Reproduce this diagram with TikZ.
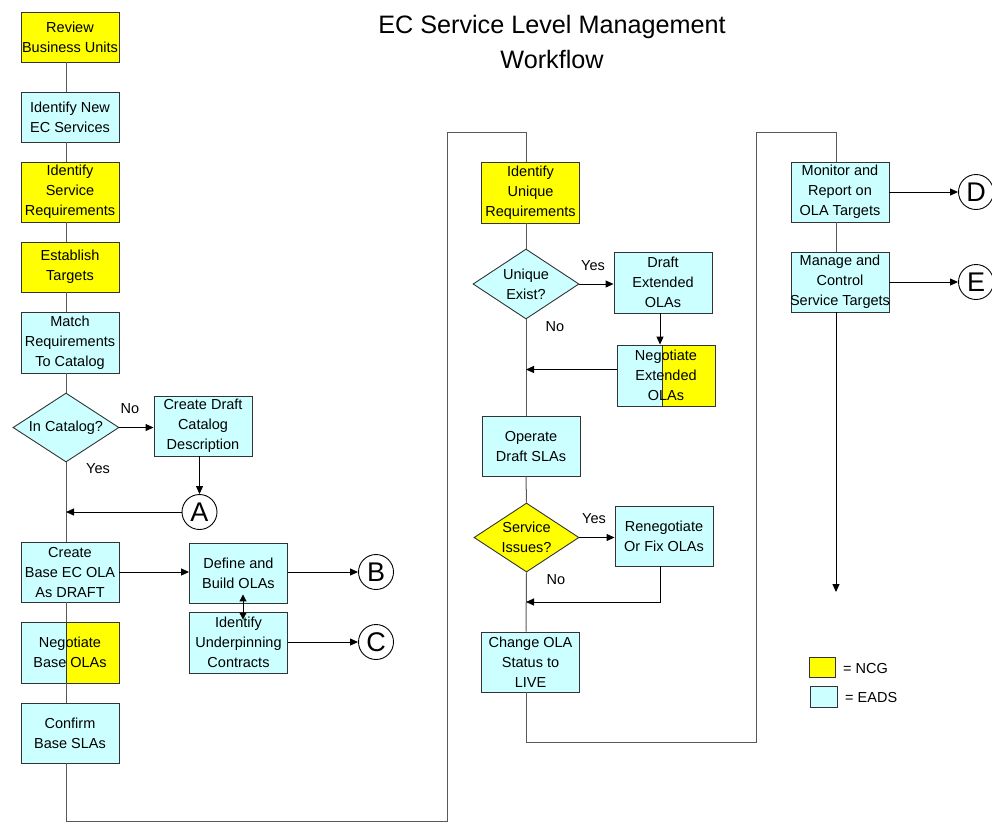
\documentclass[tikz,border=0pt]{standalone}
\usepackage{fontspec}
\setmainfont{Liberation Sans}
\usetikzlibrary{shapes.geometric,arrows.meta,calc}
\definecolor{ncgc}{HTML}{FFFF00}
\definecolor{eadsc}{HTML}{CCFFFF}
\newcommand\boxfont{\fontsize{14.5}{20}\selectfont}
\newcommand\bigletter{\fontsize{27}{30}\selectfont}
\newcommand\titlefont{\fontsize{25.2}{35}\selectfont}
\tikzset{
  box/.style={draw=black!80, line width=0.9pt, minimum width=98pt, minimum height=60pt, inner sep=0pt, align=center, font=\boxfont},
  eads/.style={box, fill=eadsc},
  ncg/.style={box, fill=ncgc},
  splitbox/.style={box, fill=eadsc, path picture={
      \fill[ncgc] ([xshift=-4pt]path picture bounding box.north) rectangle (path picture bounding box.south east);
      \draw[black!80, line width=0.9pt] ([xshift=-4pt]path picture bounding box.north) -- ([xshift=-4pt]path picture bounding box.south);}},
  dec/.style={diamond, draw=black!80, line width=0.9pt, aspect=1.54, inner sep=0pt, minimum width=106pt, minimum height=69pt, align=center, font=\boxfont},
  conn/.style={circle, draw=black, line width=0.9pt, minimum size=35pt, inner sep=0pt, font=\bigletter, fill=white},
  flow/.style={draw=black!65, line width=1pt},
  arr/.style={draw=black, line width=1pt, -{Triangle[length=8pt,width=7pt]}},
  dblarr/.style={draw=black, line width=1pt, {Triangle[length=7pt,width=7pt]}-{Triangle[length=7pt,width=7pt]}},
  lbl/.style={font=\boxfont, inner sep=0pt},
  legbox/.style={draw=black!80, line width=0.9pt, minimum width=26pt, minimum height=20pt, inner sep=0pt}
}
\begin{document}
\begin{tikzpicture}[x=1pt,y=-1pt]
\useasboundingbox (0,0) rectangle (992,823);
% guide coordinates
\coordinate (L) at (66,0);
\coordinate (M) at (526,0);
\coordinate (R) at (836,0);
\coordinate (b1) at (447,821);
\coordinate (t1) at (447,132);
\coordinate (b2) at (756,742);
\coordinate (t2) at (756,132);
\coordinate (j2) at (526,602);
\coordinate (endp) at (836,592);

% title
\node[anchor=base, font=\titlefont, inner sep=0pt] (title1) at (552,33) {EC Service Level Management};
\node[anchor=base, font=\titlefont, inner sep=0pt] (title2) at (552,68) {Workflow};

% left column
\node[ncg, minimum height=50pt] (rev) at (70,37) {Review\\Business Units};
\node[eads, minimum height=50pt] (idn) at (70,117) {Identify New\\EC Services};
\node[ncg] (isr) at (70,192) {Identify\\Service\\Requirements};
\node[ncg, minimum height=50pt] (est) at (70,267) {Establish\\Targets};
\node[eads, minimum height=61pt] (mat) at (70,342.5) {Match\\Requirements\\To Catalog};
\node[dec, fill=eadsc] (dcat) at (66,427.5) {In Catalog?};
\node[eads] (cdd) at (203,426) {Create Draft\\Catalog\\Description};
\node[conn] (A) at (199.5,512) {A};
\node[eads] (cbo) at (70,572) {Create\\Base EC OLA\\As DRAFT};
\node[splitbox, minimum height=61pt] (nbo) at (70,652.5) {Negotiate\\Base OLAs};
\node[eads] (cbs) at (70,733) {Confirm\\Base SLAs};
\node[eads] (dbo) at (238.5,573) {Define and\\Build OLAs};
\node[eads, minimum height=61pt] (iuc) at (238.5,642.5) {Identify\\Underpinning\\Contracts};
\node[conn] (B) at (376,572) {B};
\node[conn] (C) at (376,642) {C};

% middle column
\node[ncg, minimum height=61pt] (iur) at (530.5,192.5) {Identify\\Unique\\Requirements};
\node[dec, fill=eadsc, minimum height=70pt] (dun) at (526,284) {Unique\\Exist?};
\node[eads, minimum height=61pt] (dex) at (663,282.5) {Draft\\Extended\\OLAs};
\node[splitbox, minimum height=61pt] (nex) at (666,375.5) {Negotiate\\Extended\\OLAs};
\node[eads] (ods) at (531,446) {Operate\\Draft SLAs};
\node[dec, fill=ncgc, minimum width=105pt] (dsi) at (526.5,537.5) {Service\\Issues?};
\node[eads] (rfo) at (664,536) {Renegotiate\\Or Fix OLAs};
\node[eads] (cls) at (530.5,662) {Change OLA\\Status to\\LIVE};

% right column
\node[eads] (mon) at (840,192) {Monitor and\\Report on\\OLA Targets};
\node[eads] (mct) at (840,282) {Manage and\\Control\\\makebox[90pt]{Service Targets}};
\node[conn] (D) at (976,192) {D};
\node[conn] (E) at (976,282) {E};

% labels
\node[lbl] (no1) at (130,409) {No};
\node[lbl] (yes1) at (98,469) {Yes};
\node[lbl] (yes2) at (593,266) {Yes};
\node[lbl] (no2) at (555,327) {No};
\node[lbl] (yes3) at (594,519) {Yes};
\node[lbl] (no3) at (556,580) {No};

% legend
\node[legbox, fill=ncgc] (lg1) at (822,667) {};
\node[legbox, fill=eadsc, minimum width=27pt, minimum height=21pt] (lg2) at (823.5,696.5) {};
\node[lbl, anchor=west] (lt1) at (843,668) {= NCG};
\node[lbl, anchor=west] (lt2) at (845,697) {= EADS};

% plain flow lines
\draw[flow] (rev.south -| L) -- (idn.north -| L);
\draw[flow] (idn.south -| L) -- (isr.north -| L);
\draw[flow] (isr.south -| L) -- (est.north -| L);
\draw[flow] (est.south -| L) -- (mat.north -| L);
\draw[flow] (mat.south -| L) -- (dcat.north);
\draw[flow] (dcat.south) -- (cbo.north -| L);
\draw[flow] (cbo.south -| L) -- (nbo.north -| L);
\draw[flow] (nbo.south -| L) -- (cbs.north -| L);
\draw[flow] (cbs.south -| L) |- (b1) -- (t1) -| (iur.north -| M);
\draw[flow] (iur.south -| M) -- (dun.north);
\draw[flow] (dun.south) -- (ods.north -| M);
\draw[flow] (ods.south -| M) -- (dsi.north);
\draw[flow] (dsi.south) -- (cls.north -| M);
\draw[flow] (cls.south -| M) |- (b2) -- (t2) -| (mon.north -| R);
\draw[flow] (mon.south -| R) -- (mct.north -| R);

% arrows
\draw[arr] (dcat.east) -- (dcat.east -| cdd.west);
\draw[arr] (A.north |- cdd.south) -- (A.north);
\draw[arr] (A.west) -- (A.west -| L);
\draw[arr] (cbo.east) -- (cbo.east -| dbo.west);
\draw[arr] (B.west -| dbo.east) -- (B.west);
\draw[arr] (C.west -| iuc.east) -- (C.west);
\draw[dblarr] ([xshift=4.5pt,yshift=9pt]dbo.south) -- ([xshift=4.5pt,yshift=-8pt]iuc.north);
\draw[arr] (dun.east) -- (dun.east -| dex.west);
\draw[arr] ([xshift=-3pt]dex.south) -- ([xshift=-3pt]dex.south |- nex.north);
\draw[arr] ([yshift=6pt]nex.west) -- ([yshift=6pt]nex.west -| M);
\draw[arr] (dsi.east) -- (dsi.east -| rfo.west);
\draw[arr] ([xshift=-4pt]rfo.south) |- (j2);
\draw[arr] (D.west -| mon.east) -- (D.west);
\draw[arr] (E.west -| mct.east) -- (E.west);
\draw[arr] (mct.south -| R) -- (endp);
\end{tikzpicture}
\end{document}
